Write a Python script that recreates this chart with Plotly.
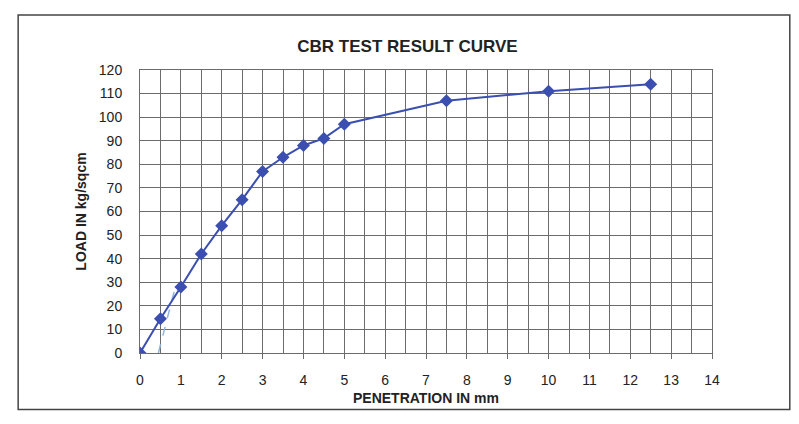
import plotly.graph_objects as go

# ── Data ─────────────────────────────────────────────────────────────────────
penetration_mm = [0, 0.5, 1.0, 1.5, 2.0, 2.5, 3.0, 3.5, 4.0, 4.5, 5.0, 7.5, 10.0, 12.5]
load_kg_sqcm = [0, 14.5, 28, 42, 54, 65, 77, 83, 88, 91, 97, 107, 111, 114]

# correction (tangent) line near the origin
corr_x = [0.45, 0.85]
corr_y = [0, 27]

x_ticks = list(range(0, 15))
y_ticks = list(range(0, 130, 10))

_BLUE = "#3b4fb0"
_GRID = "#6b6b6b"

fig = go.Figure()

fig.add_trace(go.Scatter(
    x=corr_x, y=corr_y, mode="lines",
    line=dict(color="#8fb4e0", width=1.5, dash="dash"),
    showlegend=False, hoverinfo="skip",
))

fig.add_trace(go.Scatter(
    x=penetration_mm, y=load_kg_sqcm, mode="lines+markers",
    line=dict(color=_BLUE, width=2),
    marker=dict(symbol="diamond", size=10, color=_BLUE),
    showlegend=False,
))

fig.update_layout(
    width=799, height=424,
    paper_bgcolor="white",
    plot_bgcolor="white",
    font=dict(family="Liberation Sans, Arial, sans-serif", color="#222222", size=14),
    title=dict(
        text="<b>CBR TEST RESULT CURVE</b>",
        x=0.5, xanchor="center", y=0.925, yanchor="top",
        font=dict(size=17, color="#222222"),
    ),
    xaxis=dict(
        range=[0, 14],
        tickvals=x_ticks,
        ticks="outside", ticklen=5, tickcolor=_GRID,
        ticklabelstandoff=9,
        showgrid=True, gridcolor=_GRID, gridwidth=1,
        minor=dict(dtick=0.5, showgrid=True, gridcolor=_GRID, gridwidth=1),
        showline=True, linecolor=_GRID, mirror=True,
        zeroline=False,
        title=dict(text="<b>PENETRATION IN mm</b>", font=dict(size=14), standoff=6),
    ),
    yaxis=dict(
        range=[0, 120],
        tickvals=y_ticks,
        ticks="", ticklabelstandoff=14,
        showgrid=True, gridcolor=_GRID, gridwidth=1,
        showline=True, linecolor=_GRID, mirror=True,
        zeroline=False,
        title=dict(text="<b>LOAD IN kg/sqcm</b>", font=dict(size=14), standoff=8),
    ),
    margin=dict(l=132, r=95, t=62, b=79),
    shapes=[dict(
        type="rect", xref="paper", yref="paper",
        x0=-0.213, x1=1.136, y0=-0.2, y1=1.194,
        line=dict(color="#444444", width=1.5),
    )],
)

fig.write_html("out.html")
